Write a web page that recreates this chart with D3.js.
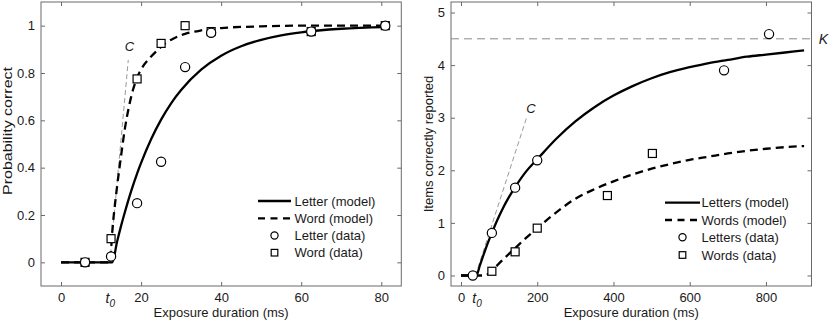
<!DOCTYPE html>
<html><head><meta charset="utf-8">
<script src="https://cdn.jsdelivr.net/npm/d3@7"></script>
<style>
body{margin:0;background:#fff}
text{font-family:"Liberation Sans",Arial,Helvetica,sans-serif;fill:#1a1a1a}
</style></head>
<body><svg id="c" width="830" height="321"></svg>
<script>
// ---------- Left panel data ----------
const leftXTicks = [0, 20, 40, 60, 80];
const leftYTicks = [0, 0.2, 0.4, 0.6, 0.8, 1];
const leftYTickLabels = ["0", "0.2", "0.4", "0.6", "0.8", "1"];
const letterDataT = [6, 12.5, 19, 25, 31, 37.5, 62.5, 81];
const letterDataP = [0, 0.025, 0.25, 0.425, 0.825, 0.97, 0.975, 1.0];
const wordDataT = [6, 12.5, 19, 25, 31, 37.5, 62.5, 81];
const wordDataP = [0, 0.1, 0.775, 0.925, 1.0, 0.975, 0.975, 1.0];
const letterModelT = [0, 12.8, 14, 15, 16, 17.5, 19, 20, 22.5, 25, 27.5, 30, 35, 40, 45, 50, 55, 60, 70, 81];
const letterModelP = [0, 0, 0.087, 0.154, 0.215, 0.30, 0.375, 0.42, 0.52, 0.603, 0.672, 0.728, 0.814, 0.873, 0.913, 0.94, 0.959, 0.972, 0.987, 0.994];
const wordModelT = [0, 12.1, 13, 14, 15, 16, 17, 18, 19, 20, 22, 24, 26, 28, 31, 35, 40, 50, 60, 81];
const wordModelP = [0, 0, 0.17, 0.32, 0.45, 0.57, 0.66, 0.73, 0.78, 0.815, 0.86, 0.895, 0.925, 0.945, 0.965, 0.98, 0.99, 0.997, 1, 1];
const leftCLineT = [12.2, 16.8];
const leftCLineP = [0, 0.855];
const leftCLabel = [17.1, 0.894];
const leftT0 = 12.3;
const leftLegend = ["Letter (model)", "Word (model)", "Letter (data)", "Word (data)"];

// ---------- Right panel data ----------
const rightXTicks = [0, 200, 400, 600, 800];
const rightYTicks = [0, 1, 2, 3, 4, 5];
const rightYTickLabels = ["0", "1", "2", "3", "4", "5"];
const lettersDataT = [31, 81, 142, 200, 690, 808];
const lettersDataN = [0, 0.81, 1.67, 2.19, 3.90, 4.59];
const wordsDataT = [81, 142, 200, 384, 502];
const wordsDataN = [0.08, 0.45, 0.90, 1.52, 2.32];
const lettersModelT = [0, 40, 50, 60, 70, 81, 95, 110, 125, 142, 170, 200, 250, 300, 350, 400, 450, 500, 550, 600, 650, 700, 750, 800, 850, 900];
const lettersModelN = [0, 0, 0.2, 0.41, 0.61, 0.81, 1.05, 1.28, 1.48, 1.68, 1.97, 2.21, 2.6, 2.93, 3.2, 3.42, 3.6, 3.75, 3.87, 3.96, 4.04, 4.1, 4.16, 4.2, 4.24, 4.28];
const wordsModelT = [0, 62, 81, 100, 120, 142, 170, 200, 250, 300, 350, 400, 450, 500, 550, 600, 650, 700, 750, 800, 850, 900];
const wordsModelN = [0, 0, 0.09, 0.23, 0.37, 0.52, 0.71, 0.9, 1.2, 1.46, 1.64, 1.79, 1.92, 2.03, 2.12, 2.2, 2.26, 2.32, 2.37, 2.41, 2.44, 2.46];
const rightCLineT = [38, 172];
const rightCLineN = [0, 3.0];
const rightCLabel = [183.6, 3.09];
const rightK = 4.5;
const rightT0 = 42;
const rightLegend = ["Letters (model)", "Words (model)", "Letters (data)", "Words (data)"];

const svg = d3.select("#c");
const zip = (a, b) => a.map((v, i) => [v, b[i]]);

function panel(o) {
  const x = d3.scaleLinear().domain(o.xDomain).range([o.x0, o.x1]);
  const y = d3.scaleLinear().domain(o.yDomain).range([o.y1, o.y0]);
  const g = svg.append("g");
  const frame = "#6a6a6a";
  const xb = d3.axisBottom(x).tickValues(o.xTicks).tickSizeInner(-4).tickSizeOuter(0).tickFormat(d => d);
  const xt = d3.axisTop(x).tickValues(o.xTicks).tickSizeInner(-4).tickSizeOuter(0).tickFormat("");
  const yl = d3.axisLeft(y).tickValues(o.yTicks).tickSizeInner(-4).tickSizeOuter(0).tickFormat((d, i) => o.yTickLabels[i]);
  const yr = d3.axisRight(y).tickValues(o.yTicks).tickSizeInner(-4).tickSizeOuter(0).tickFormat("");
  const style = sel => {
    sel.select(".domain").remove();
    sel.selectAll(".tick line").attr("stroke", frame).attr("stroke-width", 1);
    sel.selectAll(".tick text").attr("font-size", 13).attr("font-family", "Liberation Sans, Arial, sans-serif").attr("fill", "#1a1a1a");
  };
  g.append("g").attr("transform", `translate(0,${o.y1})`).call(xb).call(style)
    .selectAll(".tick text").attr("dy", null).attr("y", 15.5);
  g.append("g").attr("transform", `translate(0,${o.y0})`).call(xt).call(style);
  g.append("g").attr("transform", `translate(${o.x0},0)`).call(yl).call(style)
    .selectAll(".tick text").attr("x", -6);
  g.append("g").attr("transform", `translate(${o.x1},0)`).call(yr).call(style);
  g.append("rect").attr("x", o.x0).attr("y", o.y0).attr("width", o.x1 - o.x0).attr("height", o.y1 - o.y0)
    .attr("fill", "none").attr("stroke", frame).attr("stroke-width", 1);

  // axis labels
  g.append("text").attr("x", (o.x0 + o.x1) / 2).attr("y", 317).attr("text-anchor", "middle")
    .attr("font-size", 13).text("Exposure duration (ms)");
  const yt = g.append("text").attr("transform", `translate(${o.yLabelX},${o.yLabelY}) rotate(-90)`)
    .attr("text-anchor", "middle").attr("font-size", 13).text(o.yLabel);
  if (o.yLabelLen) yt.attr("textLength", o.yLabelLen).attr("lengthAdjust", "spacingAndGlyphs");

  // t0 label
  const t0 = g.append("text").attr("x", x(o.t0)).attr("y", 303).attr("text-anchor", "middle")
    .attr("font-size", 14).attr("font-style", "italic");
  t0.append("tspan").text("t");
  t0.append("tspan").attr("font-size", 10).attr("dy", 4).text("0");

  const line = d3.line().x(d => x(d[0])).y(d => y(d[1]));
  g.append("path").datum(zip(o.cT, o.cV)).attr("d", line).attr("fill", "none")
    .attr("stroke", "#9a9a9a").attr("stroke-width", 1).attr("stroke-dasharray", "5,3");
  g.append("text").attr("x", x(o.cLabel[0])).attr("y", y(o.cLabel[1])).attr("font-size", 13)
    .attr("font-style", "italic").attr("text-anchor", "middle").text("C");
  if (o.K != null) {
    g.append("line").attr("x1", o.x0).attr("x2", o.x1).attr("y1", y(o.K)).attr("y2", y(o.K))
      .attr("stroke", "#8a8a8a").attr("stroke-width", 1).attr("stroke-dasharray", "8,5");
    g.append("text").attr("x", o.x1 + 12).attr("y", y(o.K) + 5).attr("font-size", 14)
      .attr("font-style", "italic").attr("text-anchor", "middle").text("K");
  }

  const curve = d3.line().x(d => x(d[0])).y(d => y(d[1])).curve(d3.curveMonotoneX);
  g.append("path").datum(zip(o.m1T, o.m1V)).attr("d", curve).attr("fill", "none")
    .attr("stroke", "#000").attr("stroke-width", 2.3);
  g.append("path").datum(zip(o.m2T, o.m2V)).attr("d", curve).attr("fill", "none")
    .attr("stroke", "#000").attr("stroke-width", 2.3).attr("stroke-dasharray", "8,5");

  g.selectAll(".sq").data(zip(o.d2T, o.d2V)).enter().append("rect")
    .attr("x", d => x(d[0]) - 4).attr("y", d => y(d[1]) - 4).attr("width", 8).attr("height", 8)
    .attr("fill", "#fff").attr("stroke", "#000").attr("stroke-width", 1.2);
  g.selectAll(".ci").data(zip(o.d1T, o.d1V)).enter().append("circle")
    .attr("cx", d => x(d[0])).attr("cy", d => y(d[1])).attr("r", 4.6)
    .attr("fill", "#fff").attr("stroke", "#000").attr("stroke-width", 1.2);

  // legend
  const L = o.legend;
  const rows = L.rowY;
  g.append("line").attr("x1", L.lx0).attr("x2", L.lx1).attr("y1", rows[0]).attr("y2", rows[0])
    .attr("stroke", "#000").attr("stroke-width", 2.3);
  g.append("line").attr("x1", L.lx0).attr("x2", L.lx1).attr("y1", rows[1]).attr("y2", rows[1])
    .attr("stroke", "#000").attr("stroke-width", 2.3).attr("stroke-dasharray", "7,5.5");
  g.append("circle").attr("cx", (L.lx0 + L.lx1) / 2).attr("cy", rows[2]).attr("r", 3.6)
    .attr("fill", "#fff").attr("stroke", "#000").attr("stroke-width", 1.2);
  g.append("rect").attr("x", (L.lx0 + L.lx1) / 2 - 3.3).attr("y", rows[3] - 3.3).attr("width", 6.6).attr("height", 6.6)
    .attr("fill", "#fff").attr("stroke", "#000").attr("stroke-width", 1.2);
  o.legendText.forEach((t, i) => {
    g.append("text").attr("x", L.tx).attr("y", rows[i] + 4.6).attr("font-size", 13).text(t);
  });
}

panel({
  x0: 41, x1: 401.3, y0: 2, y1: 286,
  xDomain: [-5, 85], yDomain: [-0.1, 1.1],
  xTicks: leftXTicks, yTicks: leftYTicks, yTickLabels: leftYTickLabels,
  yLabel: "Probability correct", yLabelX: 11.5, yLabelY: 131, yLabelLen: 128,
  t0: leftT0,
  cT: leftCLineT, cV: leftCLineP, cLabel: leftCLabel, K: null,
  m1T: letterModelT, m1V: letterModelP, m2T: wordModelT, m2V: wordModelP,
  d1T: letterDataT, d1V: letterDataP, d2T: wordDataT, d2V: wordDataP,
  legendText: leftLegend,
  legend: { lx0: 258, lx1: 291, tx: 294.5, rowY: [201, 218.3, 235.5, 252.7] }
});

panel({
  x0: 451, x1: 811.5, y0: 2, y1: 286,
  xDomain: [-26.2, 919.4], yDomain: [-0.2, 5.2],
  xTicks: rightXTicks, yTicks: rightYTicks, yTickLabels: rightYTickLabels,
  yLabel: "Items correctly reported", yLabelX: 433, yLabelY: 144, yLabelLen: null,
  t0: rightT0,
  cT: rightCLineT, cV: rightCLineN, cLabel: rightCLabel, K: rightK,
  m1T: lettersModelT, m1V: lettersModelN, m2T: wordsModelT, m2V: wordsModelN,
  d1T: lettersDataT, d1V: lettersDataN, d2T: wordsDataT, d2V: wordsDataN,
  legendText: rightLegend,
  legend: { lx0: 665, lx1: 700, tx: 701.5, rowY: [202.7, 220, 237.3, 255] }
});
</script>
</body></html>
